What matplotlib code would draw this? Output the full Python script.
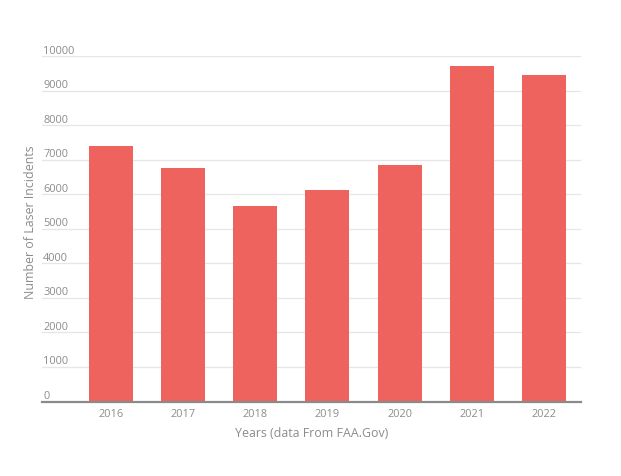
import matplotlib
matplotlib.use("Agg")
import matplotlib.pyplot as plt
import matplotlib.transforms as mtransforms

years = ["2016", "2017", "2018", "2019", "2020", "2021", "2022"]
incidents = [7394, 6757, 5657, 6138, 6862, 9727, 9467]
y_ticks = [0, 1000, 2000, 3000, 4000, 5000, 6000, 7000, 8000, 9000, 10000]

plt.rcParams['font.family'] = ['Open Sans', 'DejaVu Sans']
text_color = "#8c8c8c"
bar_color = "#EE635E"

fig = plt.figure(figsize=(6.21, 4.77), dpi=100)
ax = fig.add_axes([42/621, 1 - 402.5/477, (581 - 42)/621, (402.5 - 57.3)/477])

x = list(range(len(years)))
ax.bar(x, incidents, width=0.61, color=bar_color, zorder=2)

ax.set_xlim(-0.95, 6.51)
ax.set_ylim(0, 10000)

for sp in ["top", "right", "left"]:
    ax.spines[sp].set_visible(False)
ax.spines["bottom"].set_color("#8a8a8a")
ax.spines["bottom"].set_linewidth(1.6)
ax.spines["bottom"].set_zorder(3)

ax.set_yticks(y_ticks)
ax.set_yticklabels([])
ax.tick_params(axis="y", length=0)
ax.grid(axis="y", color="#e6e6e6", linewidth=0.9, zorder=0)
ax.set_axisbelow(True)

trans = mtransforms.blended_transform_factory(ax.transAxes, ax.transData)
offset = mtransforms.ScaledTranslation(0, 0.5/72, fig.dpi_scale_trans)
for t in y_ticks:
    ax.text(0.002, t, str(t), transform=trans + offset, ha="left", va="bottom",
            fontsize=7.9, color=text_color)

ax.set_xticks(x)
ax.set_xticklabels(years, fontsize=7.9, color=text_color)
ax.tick_params(axis="x", length=0, pad=5)

ax.set_xlabel("Years (data From FAA.Gov)", fontsize=8.9, color=text_color, labelpad=4.5)
fig.text(31/621, 1 - 222/477, "Number of Laser Incidents", rotation=90,
         ha="center", va="center", fontsize=8.9, color=text_color)

fig.savefig("out.png", dpi=100)
